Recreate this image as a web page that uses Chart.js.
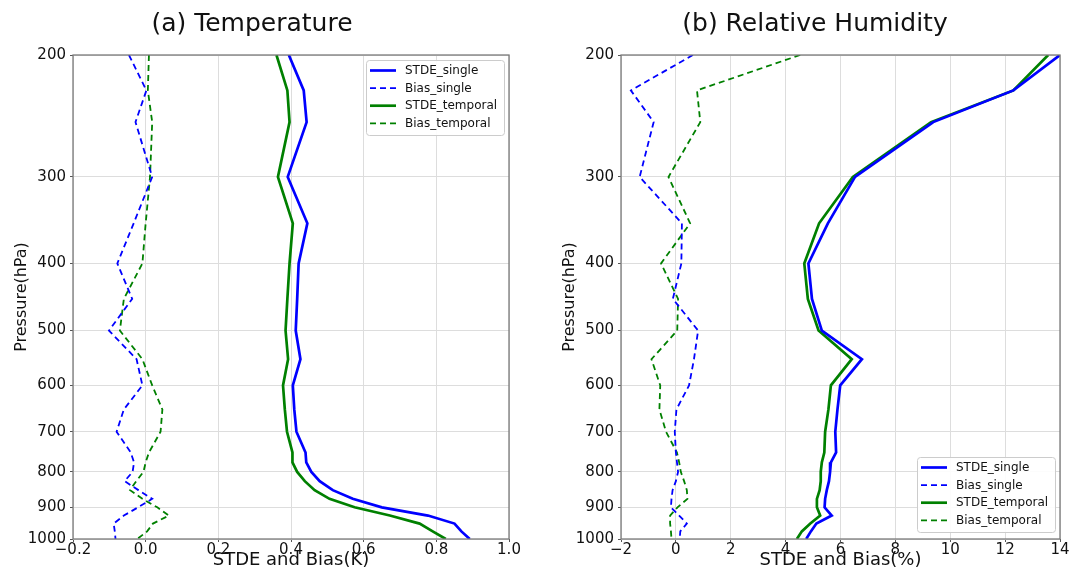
<!DOCTYPE html>
<html><head><meta charset="utf-8">
<script src="https://cdn.jsdelivr.net/npm/chart.js@4.4.0/dist/chart.umd.min.js"></script>
<style>
html,body{margin:0;padding:0;background:#fff;width:1069px;height:571px;overflow:hidden}
.box{position:absolute;top:0;height:571px}
#wa{left:0;width:534px}
#wb{left:548px;width:521px}
canvas{display:block}
</style></head><body>
<div class="box" id="wa"><canvas id="ca"></canvas></div>
<div class="box" id="wb"><canvas id="cb"></canvas></div>
<script>
// ---- data ----
const pressureLevels = [200,225,250,300,350,400,450,500,550,600,650,700,750,775,800,825,850,875,900,925,950,975,1000];
const pressureTicks = [200,300,400,500,600,700,800,900,1000];
const seriesNames = ['STDE_single','Bias_single','STDE_temporal','Bias_temporal'];

const tempTicks = [-0.2,0.0,0.2,0.4,0.6,0.8,1.0];
const tempStdeSingle   = [0.394,0.435,0.443,0.391,0.445,0.421,0.417,0.413,0.426,0.405,0.409,0.415,0.440,0.442,0.456,0.479,0.515,0.570,0.650,0.777,0.850,0.869,0.892];
const tempBiasSingle   = [-0.046,0.002,-0.028,0.018,-0.033,-0.078,-0.037,-0.101,-0.025,-0.009,-0.060,-0.080,-0.041,-0.032,-0.036,-0.058,-0.020,0.018,-0.021,-0.060,-0.088,-0.085,-0.083];
const tempStdeTemporal = [0.360,0.390,0.396,0.364,0.405,0.396,0.390,0.385,0.392,0.378,0.383,0.389,0.404,0.404,0.417,0.438,0.465,0.506,0.575,0.672,0.754,0.790,0.826];
const tempBiasTemporal = [0.009,0.006,0.018,0.012,0.000,-0.009,-0.060,-0.071,-0.009,0.018,0.046,0.041,0.009,0.000,-0.006,-0.026,-0.043,-0.009,0.032,0.064,0.020,0.004,-0.023];

const rhTicks = [-2,0,2,4,6,8,10,12,14];
const rhStdeSingle   = [14.0,12.3,9.38,6.53,5.54,4.83,4.96,5.32,6.78,5.99,5.89,5.81,5.84,5.65,5.62,5.58,5.50,5.44,5.42,5.68,5.12,4.92,4.75];
const rhBiasSingle   = [0.62,-1.64,-0.81,-1.32,0.22,0.20,-0.11,0.81,0.66,0.48,0.02,-0.04,0.00,0.04,0.08,0.00,-0.12,-0.16,-0.18,0.12,0.40,0.16,0.14];
const rhStdeTemporal = [13.57,12.3,9.30,6.45,5.22,4.68,4.81,5.20,6.41,5.65,5.56,5.44,5.41,5.32,5.28,5.28,5.24,5.14,5.14,5.26,4.90,4.59,4.41];
const rhBiasTemporal = [4.53,0.77,0.89,-0.27,0.52,-0.54,0.08,0.05,-0.89,-0.57,-0.60,-0.36,0.04,0.12,0.18,0.30,0.40,0.42,0.06,-0.21,-0.21,-0.18,-0.16];

// ---- helpers ----
const FONT = '"DejaVu Sans", "Liberation Sans", sans-serif';
const BLUE = '#0000ff', GREEN = '#008000';
const fmtMinus = s => String(s).replace('-', '\u2212');

function toPoints(vals){ return vals.map((v,i)=>({x:v, y:pressureLevels[i]})); }

function ds(label, vals, color, dashed){
  return {
    label, data: toPoints(vals),
    borderColor: color, backgroundColor: color,
    borderWidth: dashed ? 1.8 : 2.7,
    borderDash: dashed ? [6,4] : [],
    pointRadius: 0, pointHoverRadius: 0, tension: 0, fill: false
  };
}

const decor = {
  id: 'decor',
  afterDraw(chart, args, o){
    const {ctx, chartArea: a} = chart;
    ctx.save();
    // frame
    ctx.strokeStyle = '#7a7a7a'; ctx.lineWidth = 1.3;
    ctx.strokeRect(a.left, a.top, a.right - a.left, a.bottom - a.top);
    // title
    ctx.fillStyle = '#111';
    ctx.font = '25px ' + FONT;
    ctx.textAlign = 'center'; ctx.textBaseline = 'middle';
    ctx.fillText(o.title, o.titleX, o.titleY);
    // legend
    const w = o.legW, h = o.legH;
    const lx = a.right - o.legMarginX - w;
    const ly = o.legAtBottom ? a.bottom - o.legMarginY - h : a.top + o.legMarginY;
    ctx.fillStyle = 'rgba(255,255,255,0.9)';
    ctx.strokeStyle = '#cccccc'; ctx.lineWidth = 1;
    ctx.beginPath();
    if (ctx.roundRect) ctx.roundRect(lx+0.5, ly+0.5, w, h, 3); else ctx.rect(lx+0.5, ly+0.5, w, h);
    ctx.fill(); ctx.stroke();
    ctx.font = '12px ' + FONT; ctx.textAlign = 'left'; ctx.textBaseline = 'middle';
    chart.data.datasets.forEach((d, i) => {
      const yy = ly + 10.5 + i * 17.6;
      ctx.strokeStyle = d.borderColor; ctx.lineWidth = d.borderWidth;
      ctx.setLineDash(d.borderDash || []);
      ctx.beginPath(); ctx.moveTo(lx + 4, yy); ctx.lineTo(lx + 30, yy); ctx.stroke();
      ctx.setLineDash([]);
      ctx.fillStyle = '#111';
      ctx.fillText(d.label, lx + 39, yy + 0.5);
    });
    ctx.restore();
  }
};

function makeChart(id, vals, xTicks, xMin, xMax, xDec, xTitle, title, titleX, legAtBottom, padRight){
  return new Chart(document.getElementById(id), {
    type: 'line',
    data: { datasets: [
      ds(seriesNames[0], vals[0], BLUE, false),
      ds(seriesNames[1], vals[1], BLUE, true),
      ds(seriesNames[2], vals[2], GREEN, false),
      ds(seriesNames[3], vals[3], GREEN, true)
    ]},
    options: {
      responsive: true, maintainAspectRatio: false, animation: false,
      layout: { padding: { top: 55, right: padRight, left: 0, bottom: 0 } },
      plugins: {
        legend: { display: false }, tooltip: { enabled: false }, title: { display: false },
        decor: { title, titleX, titleY: 24, legW: 138, legH: 75, legMarginX: 5, legMarginY: legAtBottom ? 7 : 5, legAtBottom }
      },
      scales: {
        x: {
          type: 'linear', min: xMin, max: xMax,
          afterBuildTicks: s => { s.ticks = xTicks.map(v => ({value: v})); },
          afterFit: s => { s.height = 32; s.paddingLeft = 0; s.paddingRight = 0; },
          ticks: { color: '#111', font: { family: FONT, size: 15 }, padding: -1, maxRotation: 0,
                   callback: v => fmtMinus(Number(v).toFixed(xDec)) },
          grid: { color: '#dddddd', lineWidth: 1, tickLength: 3, tickColor: '#555' },
          border: { display: false },
          title: { display: true, text: xTitle, color: '#111', font: { family: FONT, size: 18 }, padding: { top: 0, bottom: 0 } }
        },
        y: {
          type: 'logarithmic', min: 200, max: 1000, reverse: true,
          afterBuildTicks: s => { s.ticks = pressureTicks.map(v => ({value: v})); },
          afterFit: s => { s.width = 73; },
          ticks: { color: '#111', font: { family: FONT, size: 15 }, padding: 4, autoSkip: false,
                   callback: v => String(v) },
          grid: { color: '#dddddd', lineWidth: 1, tickLength: 3, tickColor: '#555' },
          border: { display: false },
          title: { display: true, text: 'Pressure(hPa)', color: '#111', font: { family: FONT, size: 16 }, padding: { top: 12, bottom: 0 } }
        }
      }
    },
    plugins: [decor]
  });
}

makeChart('ca', [tempStdeSingle, tempBiasSingle, tempStdeTemporal, tempBiasTemporal],
  tempTicks, -0.2, 1.0, 1, 'STDE and Bias(K)', '(a) Temperature', 252, false, 25);
makeChart('cb', [rhStdeSingle, rhBiasSingle, rhStdeTemporal, rhBiasTemporal],
  rhTicks, -2, 14, 0, 'STDE and Bias(%)', '(b) Relative Humidity', 267, true, 9);
</script>
</body></html>
